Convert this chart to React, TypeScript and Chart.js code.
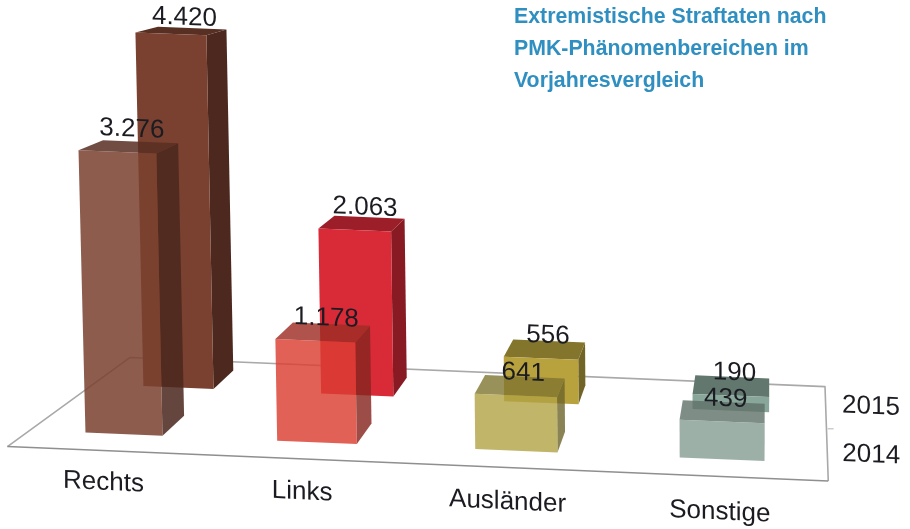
import React, { useEffect, useRef } from "react";
import { Chart, registerables } from "chart.js";

Chart.register(...registerables);

const categories = ["Rechts", "Links", "Ausländer", "Sonstige"];
const years = ["2014", "2015"];
const values2014 = [3276, 1178, 641, 439];
const values2015 = [4420, 2063, 556, 190];
const titleLines = [
  "Extremistische Straftaten nach",
  "PMK-Phänomenbereichen im",
  "Vorjahresvergleich",
];

const colors2014 = [
  "rgba(122,65,48,0.86)",
  "rgba(218,62,50,0.82)",
  "rgba(176,162,68,0.8)",
  "rgba(132,156,146,0.8)",
];
const colors2015 = [
  "rgba(122,65,48,1)",
  "rgba(217,42,56,1)",
  "rgba(184,162,62,1)",
  "rgba(136,166,154,1)",
];

const W = 910;
const H = 529;
const AREA_BOTTOM = 460;
const SHEAR = 0.042;
const AXIS_SHEAR = 0.048;
const WARP = 8e-5;
const WARP_CENTER = 420;
const LEAN = 3.6e-5;
const VP = { x: 770, y: -130 };
const DEPTH = 0.0355;
const FONT = "26px 'Liberation Sans', Arial, sans-serif";
const INK = "#1b1b22";
const LABEL_FIRST = 95;
const LABEL_SPACING = 206;

const xRange = (first: number, spacing: number) => ({
  min: -first / spacing,
  max: (W - first) / spacing,
  offset: false,
  bounds: "data",
});
const yRange = (basePx: number, pxPerUnit: number) => ({
  min: (basePx - AREA_BOTTOM) / pxPerUnit,
  max: basePx / pxPerUnit,
  bounds: "data",
});

const warp = (u: number) => u + WARP * (u - WARP_CENTER) * (u - WARP_CENTER);
const project = (u: number, y: number, base: number) => {
  const wx = warp(u);
  const x = wx - (VP.x - wx) * LEAN * (base - y);
  return { x, y: y + SHEAR * wx };
};
const recede = (p: { x: number; y: number }) => ({
  x: p.x + DEPTH * (VP.x - p.x),
  y: p.y + DEPTH * (VP.y - p.y),
});
const shade = (c: string, f: number) => {
  const m = c.match(/[\d.]+/g)!.map(Number);
  return `rgba(${m[0] * f},${m[1] * f},${m[2] * f},${m[3]})`;
};
const poly = (ctx: CanvasRenderingContext2D, pts: { x: number; y: number }[], fill: string) => {
  ctx.beginPath();
  pts.forEach((p, i) => (i ? ctx.lineTo(p.x, p.y) : ctx.moveTo(p.x, p.y)));
  ctx.closePath();
  ctx.fillStyle = fill;
  ctx.fill();
};
const formatDe = (v: number) => String(v).replace(/\B(?=(\d{3})+$)/g, ".");

const shearedText = (ctx: CanvasRenderingContext2D, text: string, x: number, y: number) => {
  ctx.save();
  ctx.translate(x, y);
  ctx.transform(1, SHEAR, 0, 1, 0, 0);
  ctx.fillStyle = INK;
  ctx.font = FONT;
  ctx.textAlign = "center";
  ctx.textBaseline = "middle";
  ctx.fillText(text, 0, 0);
  ctx.restore();
};

const perspectivePlugin = {
  id: "perspective",
  beforeDraw(chart: any) {
    const ctx = chart.ctx;
    ctx.save();
    ctx.transform(1, AXIS_SHEAR, 0, 1, 0, 0);
  },
  beforeDatasetsDraw(chart: any) {
    const ctx: CanvasRenderingContext2D = chart.ctx;
    ctx.restore();
    const { xFront, xBack, yFront, yBack } = chart.scales;
    const fy = yFront.getPixelForValue(-200);
    const by = yBack.getPixelForValue(350);
    const fl = project(xFront.getPixelForValue(-0.62), fy, fy);
    const fr = project(xFront.getPixelForValue(3.505), fy, fy);
    const bl = project(xBack.getPixelForValue(-0.275), by, by);
    const br = project(xBack.getPixelForValue(3.487), by, by);
    ctx.save();
    ctx.lineJoin = "round";
    ctx.lineWidth = 1.6;
    ctx.strokeStyle = "#a9a9a9";
    ctx.beginPath();
    ctx.moveTo(fl.x, fl.y);
    ctx.lineTo(bl.x, bl.y);
    ctx.lineTo(br.x, br.y);
    ctx.lineTo(fr.x, fr.y);
    ctx.stroke();
    ctx.strokeStyle = "#8f8f8f";
    ctx.beginPath();
    ctx.moveTo(fl.x, fl.y);
    ctx.lineTo(fr.x, fr.y);
    ctx.stroke();
    const midX = (br.x + fr.x) / 2 + 1;
    const midY = (br.y + fr.y) / 2 - 5;
    ctx.lineWidth = 1;
    ctx.strokeStyle = "#b5b5b5";
    ctx.beginPath();
    ctx.moveTo(midX, midY);
    ctx.lineTo(midX + 6, midY);
    ctx.stroke();
    ctx.restore();
    shearedText(ctx, years[1], br.x + 46, br.y + 20);
    shearedText(ctx, years[0], fr.x + 43, fr.y - 26);
  },
  beforeDatasetDraw(chart: any, args: any) {
    const ctx: CanvasRenderingContext2D = chart.ctx;
    args.meta.data.forEach((el: any) => {
      const color = el.options.backgroundColor;
      const l = el.x - el.width / 2;
      const r = el.x + el.width / 2;
      const tl = project(l, el.y, el.base);
      const tr = project(r, el.y, el.base);
      const bl = project(l, el.base, el.base);
      const br = project(r, el.base, el.base);
      poly(ctx, [tr, recede(tr), recede(br), br], shade(color, 0.62));
      poly(ctx, [tl, recede(tl), recede(tr), tr], shade(color, 0.72));
      poly(ctx, [tl, tr, br, bl], color);
    });
    return false;
  },
  afterDatasetsDraw(chart: any) {
    const ctx: CanvasRenderingContext2D = chart.ctx;
    [1, 0].forEach((di) => {
      const meta = chart.getDatasetMeta(di);
      meta.data.forEach((el: any, i: number) => {
        const c = project(el.x, el.y, el.base);
        const depth = DEPTH * (VP.x - c.x);
        const lift = Math.min(22.5, c.y * 0.48);
        shearedText(ctx, formatDe(chart.data.datasets[di].data[i].y), c.x + depth / 2 + 3, c.y - lift);
      });
    });
    ctx.save();
    ctx.fillStyle = "#2f8fc0";
    ctx.font = "bold 21.3px 'Liberation Sans', Arial, sans-serif";
    ctx.textAlign = "left";
    ctx.textBaseline = "middle";
    titleLines.forEach((line, i) => ctx.fillText(line, 514, 17 + i * 32));
    ctx.restore();
  },
};

export default function App() {
  const ref = useRef<HTMLCanvasElement>(null);
  useEffect(() => {
    const chart = new Chart(ref.current!, {
      type: "bar",
      data: {
        datasets: [
          {
            label: years[0],
            data: values2014.map((y, x) => ({ x, y })),
            backgroundColor: colors2014,
            xAxisID: "xFront",
            yAxisID: "yFront",
            barThickness: 81,
            grouped: false,
          },
          {
            label: years[1],
            data: values2015.map((y, x) => ({ x, y })),
            backgroundColor: colors2015,
            xAxisID: "xBack",
            yAxisID: "yBack",
            barThickness: 73,
            grouped: false,
          },
        ],
      },
      options: {
        responsive: false,
        animation: false,
        events: [],
        layout: { padding: 0 },
        plugins: { legend: { display: false }, tooltip: { enabled: false }, title: { display: false } },
        scales: {
          xFront: { type: "linear", display: false, position: "bottom", ...xRange(116.5, 199.5) },
          xBack: { type: "linear", display: false, position: "bottom", ...xRange(173.5, 183.3) },
          xLabels: {
            type: "linear",
            position: "bottom",
            ...xRange(LABEL_FIRST, LABEL_SPACING),
            afterFit: (s: any) => {
              s.height = H - AREA_BOTTOM;
            },
            afterBuildTicks: (s: any) => {
              s.ticks = categories.map((_, i) => ({
                value: (warp(LABEL_FIRST + i * LABEL_SPACING) - LABEL_FIRST) / LABEL_SPACING,
              }));
            },
            grid: { display: false, drawTicks: false },
            border: { display: false },
            ticks: {
              autoSkip: false,
              maxRotation: 0,
              minRotation: 0,
              padding: 2,
              color: INK,
              font: { family: "'Liberation Sans', Arial, sans-serif", size: 26 },
              callback: (_v: any, i: number) => categories[i] ?? "",
            },
          },
          yFront: { type: "linear", display: false, ...yRange(429, 0.0862) },
          yBack: { type: "linear", display: false, ...yRange(380, 0.08) },
        },
      } as any,
      plugins: [perspectivePlugin as any],
    });
    return () => chart.destroy();
  }, []);
  return (
    <div style={{ position: "fixed", left: 0, top: 0, width: W, height: H, background: "#fff" }}>
      <canvas ref={ref} width={W} height={H} style={{ display: "block", filter: "blur(0.5px)" }} />
    </div>
  );
}
